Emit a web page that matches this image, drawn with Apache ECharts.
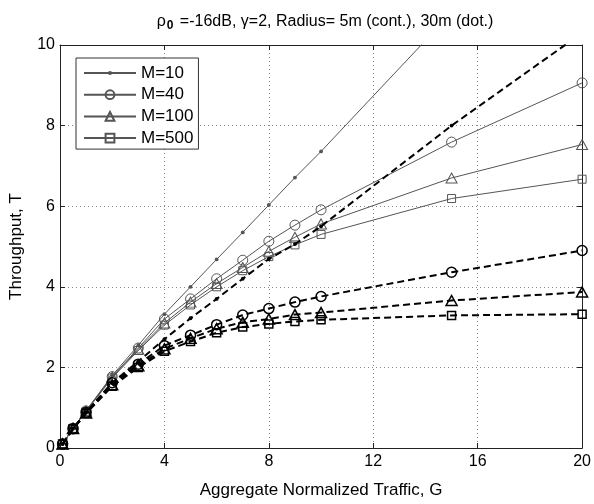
<!DOCTYPE html>
<html>
<head>
<meta charset="utf-8">
<script src="https://cdn.jsdelivr.net/npm/echarts@6/dist/echarts.min.js"></script>
<style>html,body{margin:0;padding:0;background:#fff;}#c{width:594px;height:504px;}</style>
</head>
<body>
<div id="c"></div>
<script>
const G = [0.1, 0.5, 1, 2, 3, 4, 5, 6, 7, 8, 9, 10, 15, 20];
const m10Cont  = [0.1, 0.5, 0.93, 1.8, 2.55, 3.32, 4.0, 4.68, 5.35, 6.03, 6.71, 7.36, 10.8, 14.0];
const m40Cont  = [0.1, 0.49, 0.92, 1.77, 2.48, 3.2, 3.7, 4.2, 4.66, 5.13, 5.53, 5.91, 7.59, 9.06];
const m100Cont = [0.1, 0.49, 0.92, 1.76, 2.45, 3.1, 3.62, 4.08, 4.48, 4.88, 5.23, 5.56, 6.70, 7.53];
const m500Cont = [0.1, 0.49, 0.91, 1.74, 2.42, 3.05, 3.55, 4.0, 4.4, 4.75, 5.04, 5.3, 6.19, 6.67];
const m10Dot   = [0.1, 0.48, 0.88, 1.62, 2.15, 2.7, 3.22, 3.7, 4.2, 4.69, 5.06, 5.5, 8.0, 10.3];
const m40Dot   = [0.1, 0.48, 0.88, 1.62, 2.08, 2.54, 2.8, 3.06, 3.3, 3.46, 3.62, 3.76, 4.36, 4.9];
const m100Dot  = [0.1, 0.48, 0.87, 1.57, 2.04, 2.46, 2.72, 2.96, 3.12, 3.2, 3.31, 3.36, 3.66, 3.87];
const m500Dot  = [0.1, 0.47, 0.86, 1.53, 2.0, 2.4, 2.64, 2.86, 3.0, 3.08, 3.14, 3.18, 3.29, 3.32];
const legendNames = ['M=10', 'M=40', 'M=100', 'M=500'];
const xTicks = [0, 4, 8, 12, 16, 20];
const yTicks = [0, 2, 4, 6, 8, 10];

const FONT = 'Liberation Sans, Arial, sans-serif';
const pairs = arr => G.map((g, i) => [g, arr[i]]);
// small dot drawn inside a larger (invisible) box so it stays small in the legend too
const DOT = 'path://M0,0M10,10M5,2.6A2.4,2.4,0,1,1,5,7.4A2.4,2.4,0,1,1,5,2.6Z';
const symbols = [
  {symbol: DOT, size: 8, filled: true},
  {symbol: 'circle', size: 10},
  {symbol: 'triangle', size: [11, 10]},
  {symbol: 'rect', size: 8}
];
function mk(name, arr, idx, dashed) {
  const s = symbols[idx];
  const col = dashed ? '#000' : '#555';
  return {
    name: name,
    type: 'line',
    data: pairs(arr),
    clip: true,
    symbol: s.symbol,
    symbolSize: s.size,
    showSymbol: true,
    z: dashed ? 3 : 2,
    lineStyle: {color: col, width: dashed ? 2 : 1, type: dashed ? [7, 4] : 'solid'},
    itemStyle: {
      color: s.filled ? col : 'rgba(255,255,255,0)',
      borderColor: col,
      borderWidth: s.filled ? 0 : (dashed ? 1.5 : 1)
    },
    emphasis: {disabled: true},
    animation: false
  };
}
const series = [
  mk(legendNames[0], m10Cont, 0, false),
  mk(legendNames[1], m40Cont, 1, false),
  mk(legendNames[2], m100Cont, 2, false),
  mk(legendNames[3], m500Cont, 3, false),
  mk(legendNames[0] + ' (dot.)', m10Dot, 0, true),
  mk(legendNames[1] + ' (dot.)', m40Dot, 1, true),
  mk(legendNames[2] + ' (dot.)', m100Dot, 2, true),
  mk(legendNames[3] + ' (dot.)', m500Dot, 3, true)
];

const chart = echarts.init(document.getElementById('c'), null, {renderer: 'canvas'});
const axisLineStyle = {color: '#222', width: 1};
chart.setOption({
  animation: false,
  backgroundColor: '#fff',
  title: {
    text: '{a|ρ}{s|0}{a| =-16dB, γ=2, Radius= 5m (cont.), 30m (dot.)}',
    left: 320,
    top: 6,
    textAlign: 'center',
    textStyle: {
      fontWeight: 'normal',
      rich: {
        a: {fontFamily: FONT, fontSize: 16, fontWeight: 'normal', color: '#000'},
        s: {fontFamily: FONT, fontSize: 12, fontWeight: 'bold', color: '#000', padding: [9, 2, 0, 1]}
      }
    }
  },
  legend: {
    data: legendNames,
    orient: 'vertical',
    left: 76,
    top: 58,
    itemWidth: 52,
    itemHeight: 11,
    itemGap: 3.7,
    padding: [6, 5, 2, 7],
    borderColor: '#333',
    borderWidth: 1,
    backgroundColor: '#fff',
    textStyle: {fontFamily: FONT, fontSize: 17, lineHeight: 18, color: '#000'},
    selectedMode: false
  },
  grid: {left: 56, right: 11, top: 45, bottom: 42, containLabel: false},
  xAxis: [{
    type: 'value', min: xTicks[0], max: xTicks[xTicks.length - 1], interval: xTicks[1] - xTicks[0],
    name: 'Aggregate Normalized Traffic, G', nameLocation: 'middle', nameGap: 34,
    nameTextStyle: {fontFamily: FONT, fontSize: 17, color: '#000'},
    axisLine: {show: true, onZero: false, lineStyle: axisLineStyle},
    axisTick: {show: true, inside: true, length: 5, lineStyle: axisLineStyle},
    axisLabel: {fontFamily: FONT, fontSize: 16, color: '#000', margin: 6},
    splitLine: {show: true, lineStyle: {color: '#888', type: [1, 3], width: 1}}
  }, {
    type: 'value', position: 'top', min: xTicks[0], max: xTicks[xTicks.length - 1], interval: xTicks[1] - xTicks[0],
    axisLine: {show: true, onZero: false, lineStyle: axisLineStyle},
    axisTick: {show: true, inside: true, length: 5, lineStyle: axisLineStyle},
    axisLabel: {show: false}, splitLine: {show: false}
  }],
  yAxis: [{
    type: 'value', min: yTicks[0], max: yTicks[yTicks.length - 1], interval: yTicks[1] - yTicks[0],
    name: 'Throughput, T', nameLocation: 'middle', nameGap: 35, nameRotate: 90,
    nameTextStyle: {fontFamily: FONT, fontSize: 17, color: '#000'},
    axisLine: {show: true, onZero: false, lineStyle: axisLineStyle},
    axisTick: {show: true, inside: true, length: 5, lineStyle: axisLineStyle},
    axisLabel: {fontFamily: FONT, fontSize: 16, color: '#000', margin: 5},
    splitLine: {show: true, lineStyle: {color: '#888', type: [1, 3], width: 1}}
  }, {
    type: 'value', position: 'right', min: yTicks[0], max: yTicks[yTicks.length - 1], interval: yTicks[1] - yTicks[0],
    axisLine: {show: true, onZero: false, lineStyle: axisLineStyle},
    axisTick: {show: true, inside: true, length: 5, lineStyle: axisLineStyle},
    axisLabel: {show: false}, splitLine: {show: false}
  }],
  series: series
});
</script>
</body>
</html>
